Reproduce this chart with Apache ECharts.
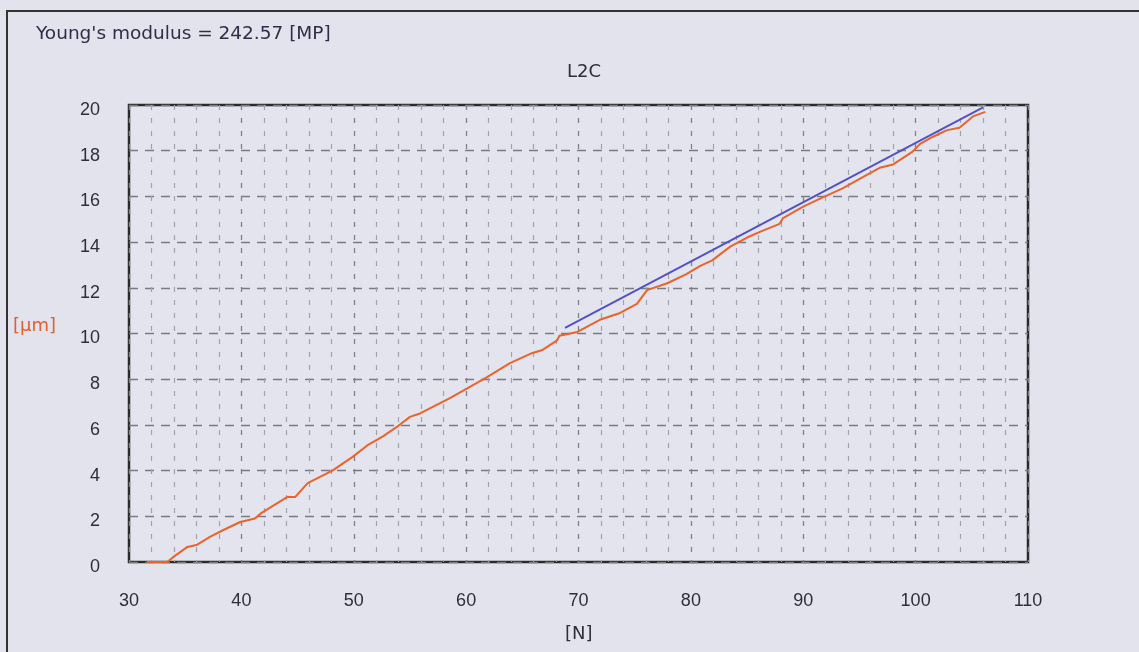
<!DOCTYPE html>
<html>
<head>
<meta charset="utf-8">
<title>L2C</title>
<script src="https://cdn.jsdelivr.net/npm/echarts@6/dist/echarts.min.js"></script>
<style>
  html, body { margin: 0; padding: 0; background: #e3e3ee; }
  #chart { width: 1139px; height: 652px; }
</style>
</head>
<body>
<div id="chart"></div>
<script>
// 测得的曲线 (力 N / 位移 µm)
const forceN = [31.6, 33.4, 33.9, 35.2, 36.0, 37.2, 38.4, 39.9, 41.2, 41.8, 44.1, 44.8, 45.9, 48.1, 49.9, 51.2, 52.6, 53.8, 55.0, 55.9,
    58.6, 60.1, 61.9, 63.9, 65.9, 66.8, 68.1, 68.3, 69.9, 71.9, 73.7, 75.2, 76.1, 77.9, 79.6, 80.8, 81.9, 83.5, 85.0, 86.4,
    87.9, 88.2, 90.0, 91.5, 93.5, 95.7, 96.8, 98.0, 99.7, 100.4, 101.5, 102.8, 103.9, 105.1, 106.2]
const dispUm = [0, 0, 0.2, 0.66, 0.74, 1.1, 1.4, 1.75, 1.9, 2.15, 2.85, 2.85, 3.45, 4.0, 4.6, 5.1, 5.5, 5.9, 6.35, 6.5,
    7.18, 7.6, 8.1, 8.7, 9.15, 9.28, 9.7, 9.9, 10.07, 10.6, 10.9, 11.3, 11.9, 12.2, 12.6, 12.95, 13.2, 13.8, 14.2, 14.5,
    14.8, 15.05, 15.55, 15.9, 16.35, 16.95, 17.25, 17.4, 17.95, 18.3, 18.6, 18.9, 19.0, 19.5, 19.7]

// 拟合直线
const fitN = [68.8, 106.0]
const fitUm = [10.25, 19.9]

const xTicks = [30, 40, 50, 60, 70, 80, 90, 100, 110]
const yTicks = [0, 2, 4, 6, 8, 10, 12, 14, 16, 18, 20]

const fontName = 'Liberation Sans, Arial, sans-serif'
const wideFont = 'DejaVu Sans, Verdana, sans-serif'
const textColor = '#2e2e3c'

const myChart = echarts.init(document.getElementById('chart'))

const option = {
    backgroundColor: '#e3e3ee',
    animation: false,
    textStyle: { fontFamily: fontName },
    title: {
        text: 'L2C',
        left: 579,
        top: 58,
        textAlign: 'center',
        textStyle: { fontSize: 18, fontWeight: 'normal', color: textColor, fontFamily: wideFont }
    },
    grid: {
        left: 129,
        top: 105,
        right: 111,
        bottom: 90,
        show: true,
        backgroundColor: '#e4e4ef',
        borderColor: '#2a2a2a',
        borderWidth: 2.5
    },
    graphic: [
        {
            type: 'rect',
            shape: { x: 7, y: 11, width: 1200, height: 700 },
            style: { fill: 'none', stroke: '#333', lineWidth: 2 },
            silent: true
        },
        {
            type: 'text',
            left: 36,
            top: 25,
            style: { text: "Young's modulus = 242.57 [MP]", fontSize: 18.5, fill: '#2e2e48', fontFamily: wideFont }
        },
        {
            type: 'text',
            left: 13,
            top: 317,
            style: { text: '[µm]', fontSize: 18, fill: '#e0602e', fontFamily: wideFont }
        },
        {
            type: 'text',
            left: 565,
            top: 625,
            style: { text: '[N]', fontSize: 18, fill: textColor, fontFamily: wideFont }
        }
    ],
    xAxis: {
        type: 'value',
        min: xTicks[0],
        max: xTicks[xTicks.length - 1],
        interval: 10,
        axisLine: { show: false },
        axisTick: { show: false },
        axisLabel: { margin: 30, fontSize: 18, color: textColor, fontFamily: fontName },
        splitLine: { show: true, lineStyle: { color: '#808088', width: 1.3, type: [5, 8] } },
        minorTick: { show: false, splitNumber: 5 },
        minorSplitLine: { show: true, lineStyle: { color: '#a2a2aa', width: 1.2, type: [5, 8] } }
    },
    yAxis: {
        type: 'value',
        min: yTicks[0],
        max: yTicks[yTicks.length - 1],
        interval: 2,
        axisLine: { show: false },
        axisTick: { show: false },
        axisLabel: { margin: 29, fontSize: 18, color: textColor, fontFamily: fontName, verticalAlign: 'top', lineHeight: 10 },
        splitLine: { show: true, lineStyle: { color: '#7a7a80', width: 1.3, type: [9, 7] } }
    },
    series: [
        {
            name: 'measured',
            type: 'line',
            data: forceN.map((x, i) => [x, dispUm[i]]),
            showSymbol: false,
            lineStyle: { color: '#e8642a', width: 2 },
            z: 3
        },
        {
            name: 'fit',
            type: 'line',
            data: fitN.map((x, i) => [x, fitUm[i]]),
            showSymbol: false,
            lineStyle: { color: '#5252c4', width: 2 },
            z: 4
        }
    ]
}

myChart.setOption(option)
</script>
</body>
</html>
